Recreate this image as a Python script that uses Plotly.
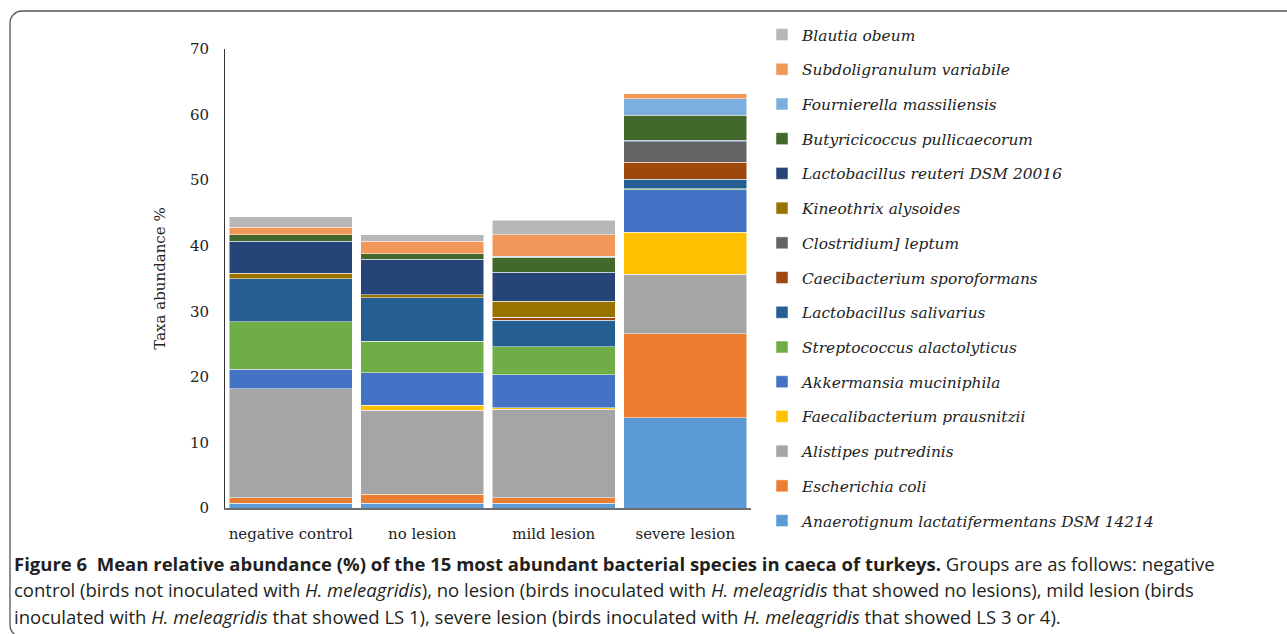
import plotly.graph_objects as go

# Groups on the x axis
groups = ["negative control", "no lesion", "mild lesion", "severe lesion"]

# Mean relative abundance (%) per species, stacked bottom to top
anaerotignum = [0.7, 0.7, 0.7, 13.8]
escherichia = [0.9, 1.4, 0.85, 12.75]
alistipes = [16.6, 12.8, 13.5, 9.1]
faecalibacterium = [0.0, 0.75, 0.25, 6.4]
akkermansia = [2.95, 5.0, 5.0, 6.45]
streptococcus = [7.25, 4.8, 4.3, 0.2]
l_salivarius = [6.6, 6.6, 4.0, 1.4]
caecibacterium = [0.0, 0.0, 0.5, 2.65]
clostridium = [0.0, 0.0, 0.0, 3.1]
kineothrix = [0.8, 0.45, 2.45, 0.0]
l_reuteri = [4.9, 5.4, 4.4, 0.2]
butyricicoccus = [1.0, 0.9, 2.3, 3.85]
fournierella = [0.0, 0.0, 0.15, 2.55]
subdoligranulum = [1.1, 1.9, 3.25, 0.75]
blautia = [1.6, 1.0, 2.2, 0.0]

series = [
    ("Anaerotignum lactatifermentans DSM 14214", anaerotignum, "#5B9BD5"),
    ("Escherichia coli", escherichia, "#ED7D31"),
    ("Alistipes putredinis", alistipes, "#A5A5A5"),
    ("Faecalibacterium prausnitzii", faecalibacterium, "#FFC000"),
    ("Akkermansia muciniphila", akkermansia, "#4472C4"),
    ("Streptococcus alactolyticus", streptococcus, "#70AD47"),
    ("Lactobacillus salivarius", l_salivarius, "#255E91"),
    ("Caecibacterium sporoformans", caecibacterium, "#9E480E"),
    ("Clostridium] leptum", clostridium, "#636363"),
    ("Kineothrix alysoides", kineothrix, "#997300"),
    ("Lactobacillus reuteri DSM 20016", l_reuteri, "#264478"),
    ("Butyricicoccus pullicaecorum", butyricicoccus, "#43682B"),
    ("Fournierella massiliensis", fournierella, "#7CAFDD"),
    ("Subdoligranulum variabile", subdoligranulum, "#F1975A"),
    ("Blautia obeum", blautia, "#B7B7B7"),
]

W, H = 1287, 634
L, R, T, B = 225, 751, 49, 508  # plot area in pixels

def px(x):
    return (x - L) / (R - L)

def py(y):
    return (B - y) / (B - T)

SERIF = "DejaVu Serif"
SANS = "Open Sans"

fig = go.Figure()
n = len(series)
for i, (name, vals, color) in enumerate(series):
    fig.add_trace(go.Bar(
        x=groups, y=vals, name=name, legendgroup=name,
        legendrank=n - i,  # top of the stack listed first
        marker=dict(color=color, line=dict(color="white", width=0.5)),
    ))

fig.update_layout(
    width=W, height=H,
    margin=dict(l=L, r=W - R, t=T, b=H - B, pad=0),
    paper_bgcolor="white", plot_bgcolor="white",
    barmode="stack", bargap=0.065,
    showlegend=True,
    legend=dict(
        x=px(762), y=py(18), xanchor="left", yanchor="top",
        traceorder="grouped", tracegroupgap=11.7, maxheight=620,
        font=dict(family=SERIF, size=15.4, color="#222222", style="italic"),
        itemwidth=30, bgcolor="rgba(0,0,0,0)",
    ),
    xaxis=dict(
        showline=True, linecolor="#6f6f6f", linewidth=1.5,
        ticks="", showgrid=False, ticklabelstandoff=11,
        tickfont=dict(family=SERIF, size=15, color="#222222"),
    ),
    yaxis=dict(
        range=[0, 70], dtick=10, showline=True, linecolor="#333333",
        linewidth=1, ticks="", showgrid=False, zeroline=False,
        ticklabelstandoff=12,
        tickfont=dict(family=SERIF, size=15, color="#222222"),
        title=dict(text="Taxa abundance %", standoff=20,
                   font=dict(family=SERIF, size=15, color="#222222")),
    ),
)

# Rounded frame around figure and caption
r = 12
k = 0.55 * r
x0, y0, y1 = 10, 11, 637
path = (
    f"M {px(x0 + r)},{py(y1)} "
    f"C {px(x0 + r - k)},{py(y1)} {px(x0)},{py(y1 - r + k)} {px(x0)},{py(y1 - r)} "
    f"L {px(x0)},{py(y0 + r)} "
    f"C {px(x0)},{py(y0 + r - k)} {px(x0 + r - k)},{py(y0)} {px(x0 + r)},{py(y0)} "
    f"L {px(1300)},{py(y0)}"
)
fig.add_shape(type="path", path=path, xref="paper", yref="paper",
              line=dict(color="#555555", width=1.3))

caption = [
    "<b>Figure 6  Mean relative abundance (%) of the 15 most abundant bacterial "
    "species in caeca of turkeys.</b> Groups are as follows: negative",
    "control (birds not inoculated with <i>H. meleagridis</i>), no lesion (birds "
    "inoculated with <i>H. meleagridis</i> that showed no lesions), mild lesion (birds",
    "inoculated with <i>H. meleagridis</i> that showed LS 1), severe lesion (birds "
    "inoculated with <i>H. meleagridis</i> that showed LS 3 or 4).",
]
for i, line in enumerate(caption):
    fig.add_annotation(
        text=line, x=px(12), y=py(563 + 26.5 * i), xref="paper", yref="paper",
        xanchor="left", yanchor="middle", showarrow=False,
        font=dict(family=SANS, size=18.5, color="#231f20"),
    )

fig.write_html("out.html")
